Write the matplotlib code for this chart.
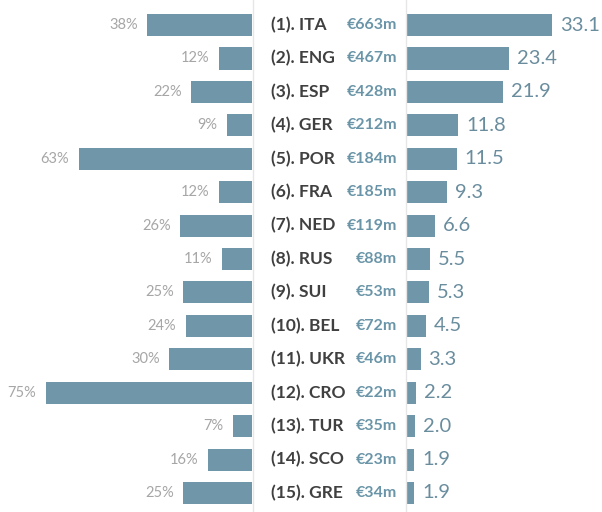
import matplotlib
matplotlib.use('Agg')
import matplotlib.pyplot as plt
from matplotlib.transforms import blended_transform_factory

# data
ranks = ['(1). ITA', '(2). ENG', '(3). ESP', '(4). GER', '(5). POR',
         '(6). FRA', '(7). NED', '(8). RUS', '(9). SUI', '(10). BEL',
         '(11). UKR', '(12). CRO', '(13). TUR', '(14). SCO', '(15). GRE']
euros = ['€663m', '€467m', '€428m', '€212m', '€184m', '€185m', '€119m', '€88m',
         '€53m', '€72m', '€46m', '€22m', '€35m', '€23m', '€34m']
pct = [38, 12, 22, 9, 63, 12, 26, 11, 25, 24, 30, 75, 7, 16, 25]
points = [33.1, 23.4, 21.9, 11.8, 11.5, 9.3, 6.6, 5.5, 5.3, 4.5, 3.3, 2.2, 2.0, 1.9, 1.9]

plt.rcParams['font.family'] = ['Lato', 'DejaVu Sans']

bar_col = '#7097a9'
W, H = 602, 512
fig = plt.figure(figsize=(W / 100, H / 100), dpi=100)
fig.patch.set_facecolor('white')

y = list(range(len(ranks)))
ylim = (14.57, -0.75)

# left: percentages, growing leftwards
ax_l = fig.add_axes([0, 0, 252 / W, 1])
ax_l.barh(y, pct, height=0.66, color=bar_col)
ax_l.set_xlim(91.6, 0)
ax_l.set_ylim(*ylim)
for i, v in enumerate(pct):
    ax_l.text(v + 3.5, i, f'{v}%', ha='right', va='center', fontsize=10.5, color='#a6a6a6')

# right: values
ax_r = fig.add_axes([406 / W, 0, 196 / W, 1])
ax_r.barh(y, points, height=0.66, color=bar_col)
ax_r.set_xlim(0, 44.4)
ax_r.set_ylim(*ylim)
for i, v in enumerate(points):
    ax_r.text(v + 1.8, i, f'{v:.1f}', ha='left', va='center', fontsize=14.5,
              color='#6a8d9e')

for ax in (ax_l, ax_r):
    ax.axis('off')

# thin separators
fig.add_artist(plt.Line2D([252.5 / W] * 2, [0, 1], color='#e6e6e6', lw=1))
fig.add_artist(plt.Line2D([405.5 / W] * 2, [0, 1], color='#e6e6e6', lw=1))

# middle labels
tr = blended_transform_factory(fig.transFigure, ax_r.transData)
for i, (r, e) in enumerate(zip(ranks, euros)):
    ax_r.text(271 / W, i, r, transform=tr, ha='left', va='center',
              fontsize=12.5, fontweight='bold', color='#404040', clip_on=False)
    ax_r.text(397 / W, i, e, transform=tr, ha='right', va='center',
              fontsize=11.5, fontweight='bold', color='#6a95a8', clip_on=False)

fig.savefig('out.png', dpi=100, facecolor='white')
